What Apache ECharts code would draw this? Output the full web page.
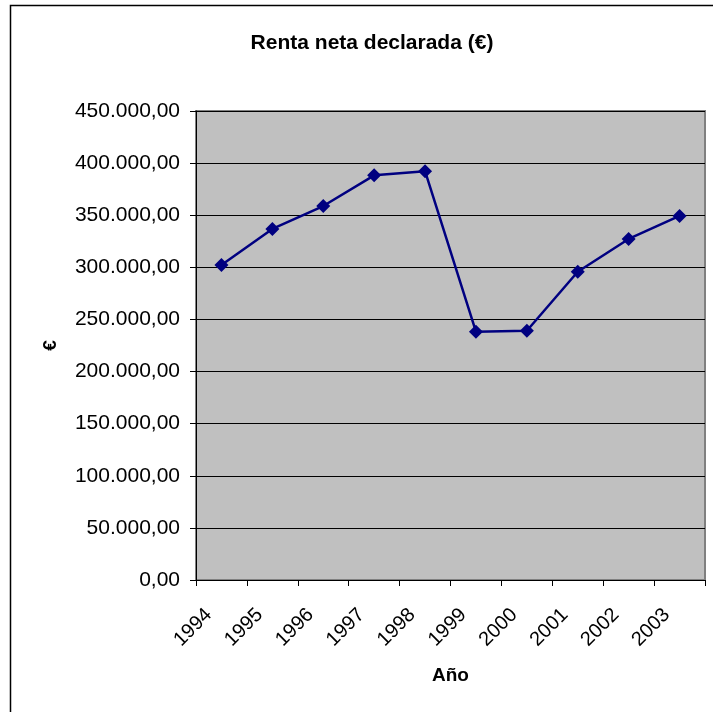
<!DOCTYPE html>
<html>
<head>
<meta charset="utf-8">
<script src="https://cdn.jsdelivr.net/npm/echarts@6/dist/echarts.min.js"></script>
<style>
  html, body { margin: 0; padding: 0; background: #fff; }
  #chart { width: 713px; height: 712px; }
</style>
</head>
<body>
<div id="chart"></div>
<script>
// datos
const years = ['1994', '1995', '1996', '1997', '1998', '1999', '2000', '2001', '2002', '2003'];
const renta = [302200, 336800, 358800, 388300, 392200, 238300, 239200, 295800, 327200, 349300];

// formato español: 450.000,00
function fmtEs(v) {
    const parts = v.toFixed(2).split('.');
    parts[0] = parts[0].replace(/\B(?=(\d{3})+(?!\d))/g, '.');
    return parts.join(',');
}

const chart = echarts.init(document.getElementById('chart'));

chart.setOption({
    animation: false,
    textStyle: { fontFamily: 'Liberation Sans, Arial, sans-serif' },
    title: {
        text: 'Renta neta declarada (€)',
        left: 367,
        textAlign: 'center',
        top: 28,
        textStyle: { fontSize: 21, fontWeight: 'bold', color: '#000' }
    },
    graphic: [{
        type: 'rect',
        shape: { x: 10.5, y: 5.5, width: 800, height: 800 },
        style: { fill: 'none', stroke: '#000', lineWidth: 1.5 },
        silent: true
    }],
    grid: {
        left: 196, top: 111, right: 8, bottom: 132,
        show: true,
        backgroundColor: '#c0c0c0',
        borderColor: '#808080',
        borderWidth: 2
    },
    xAxis: {
        type: 'category',
        data: years,
        boundaryGap: true,
        name: 'Año',
        nameLocation: 'middle',
        nameGap: 86,
        nameTextStyle: { fontSize: 19, fontWeight: 'bold', color: '#000' },
        axisLine: { lineStyle: { color: '#000', width: 1 } },
        axisTick: { show: true, alignWithLabel: false, length: 6, lineStyle: { color: '#000' } },
        axisLabel: { rotate: 45, fontSize: 20, color: '#000', margin: 19, padding: [0, 18, 0, 0], interval: 0 }
    },
    yAxis: {
        type: 'value',
        min: 0, max: 450000, interval: 50000,
        name: '€',
        nameLocation: 'middle',
        nameRotate: 90,
        nameGap: 136,
        nameTextStyle: { fontSize: 19, fontWeight: 'bold', color: '#000' },
        axisLine: { show: true, lineStyle: { color: '#000', width: 1 } },
        axisTick: { show: true, length: 6, lineStyle: { color: '#000' } },
        axisLabel: { fontSize: 21, color: '#000', margin: 16, formatter: fmtEs },
        splitLine: { show: true, lineStyle: { color: '#000', width: 1 } }
    },
    series: [{
        name: 'Renta',
        type: 'line',
        data: renta,
        symbol: 'diamond',
        symbolSize: 14,
        itemStyle: { color: '#000080' },
        lineStyle: { color: '#000080', width: 2.5 }
    }]
});
</script>
</body>
</html>
